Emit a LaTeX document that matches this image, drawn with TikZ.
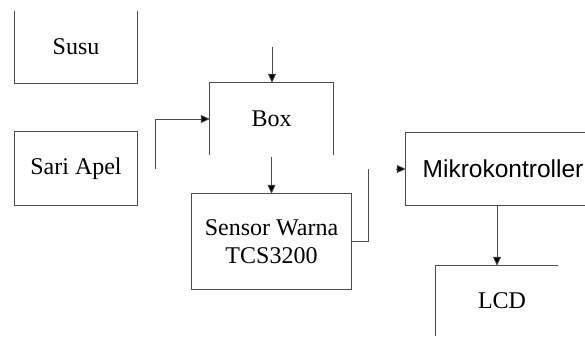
\documentclass[tikz,border=0pt]{standalone}
\usepackage{fontspec}
\setmainfont{Liberation Serif}
\setsansfont{Liberation Sans}
\usetikzlibrary{arrows.meta}
\begin{document}
\begin{tikzpicture}[x=1pt,y=-1pt,
  ln/.style={draw=black!70, line width=0.8pt},
  arr/.style={ln, -{Triangle[length=9pt,width=8pt,fill=black]}},
  blk/.style={inner sep=0pt, font=\fontsize{24}{28}\selectfont, align=center},
  sblk/.style={blk, font=\sffamily\fontsize{24.5}{28}\selectfont}]
\useasboundingbox (0,0) rectangle (585,337);
\fill[white] (0,0) rectangle (585,337);
% nodes
\node[blk, minimum width=122pt, minimum height=72pt] (susu) at (76,47) {Susu};
\node[blk, minimum width=122pt, minimum height=73pt] (sari) at (76,168.5) {Sari Apel};
\node[blk, minimum width=123pt, minimum height=72pt] (box) at (271.5,119) {Box};
\node[blk, minimum width=159pt, minimum height=95pt] (sensor) at (271.5,241.5) {Sensor Warna\\TCS3200};
\node[sblk, minimum width=194pt, minimum height=72pt] (mikro) at (503,169) {Mikrokontroller};
\node[blk, minimum width=122pt, minimum height=70pt] (lcd) at (497,301) {};
\node[blk] (lcdt) at (502,301) {LCD};
\coordinate (edgeR) at (585,0);
% box outlines
\draw[ln] (susu.north west) -- (susu.south west) -- (susu.south east) -- (susu.north east);
\draw[ln] (sari.north west) rectangle (sari.south east);
\draw[ln] (box.south west) -- (box.north west) -- (box.north east) -- (box.south east);
\draw[ln] (sensor.north west) rectangle (sensor.south east);
\draw[ln] (mikro.north west -| edgeR) -- (mikro.north west) -- (mikro.south west) -- (mikro.south west -| edgeR);
\draw[ln] (lcd.south west) -- (lcd.north west) -- (lcd.north east);
% connectors
\coordinate (intop) at (272,47);
\coordinate (sarist) at (155,169);
\coordinate (senup) at (368,169);
\coordinate (mkin) at (396,169);
\draw[arr] (intop) -- (intop |- box.north);
\draw[arr] (sarist) |- (box.west);
\draw[arr] ([yshift=-2pt]box.south) -- (sensor.north);
\draw[ln] (sensor.east) -| (senup);
\draw[arr] (mkin) -- (mikro.west);
\draw[arr] (mikro.south -| lcd.north) -- (lcd.north);
\end{tikzpicture}
\end{document}
